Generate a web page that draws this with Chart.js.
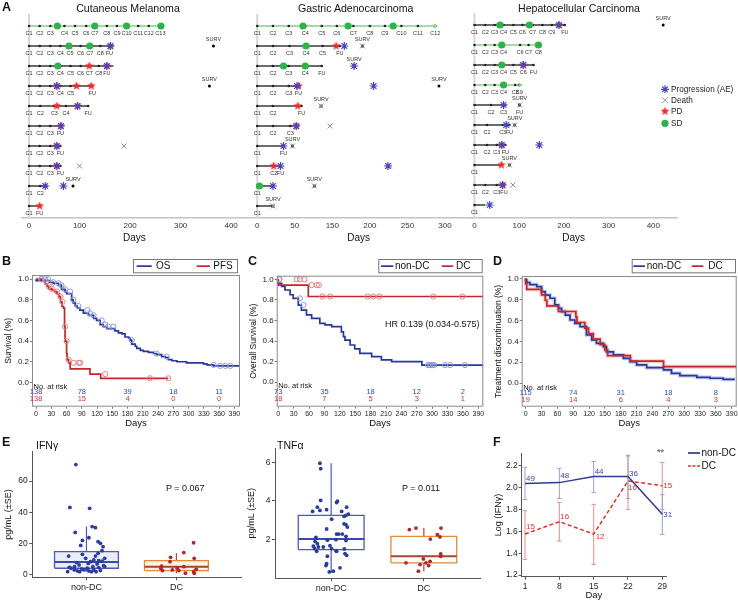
<!DOCTYPE html>
<html><head><meta charset="utf-8">
<script src="https://cdn.jsdelivr.net/npm/chart.js@4.4.1/dist/chart.umd.min.js"></script>
<style>
html,body{margin:0;padding:0;background:#fff;}
body{width:738px;height:603px;position:relative;overflow:hidden;font-family:"Liberation Sans",Arial,sans-serif;}
canvas{position:absolute;}
.t{position:absolute;white-space:nowrap;color:#111;line-height:1;}
</style></head><body>
<script>
// ================= DATA =================
// ---- Panel A: swimmer plots (days from start; rows top to bottom) ----
const melTicks = [0,100,200,300,400];
const melTickLabels = ['0','100','200','300','400'];
const melCycles = [
 [[0,'C1'],[21,'C2'],[42,'C3'],[70,'C4'],[91,'C5'],[113,'C6'],[130,'C7'],[154,'C8'],[174,'C9'],[193,'C10'],[216,'C11'],[237,'C12'],[260,'C13']],
 [[0,'C1'],[21,'C2'],[42,'C3'],[62,'C4'],[81,'C5'],[102,'C6'],[120,'C7'],[141,'C8'],[159,'FU']],
 [[0,'C1'],[21,'C2'],[42,'C3'],[62,'C4'],[82,'C5'],[102,'C6'],[119,'C7'],[138,'C8'],[154,'FU']],
 [[0,'C1'],[21,'C2'],[42,'C3'],[62,'C4'],[82,'C5'],[125,'FU']],
 [[0,'C1'],[22,'C2'],[50,'C3'],[73,'C4'],[117,'FU']],
 [[0,'C1'],[21,'C2'],[42,'C3'],[62,'FU']],
 [[0,'C1'],[21,'C2'],[42,'C3'],[62,'FU']],
 [[0,'C1'],[21,'C2'],[42,'C3'],[62,'FU']],
 [[0,'C1'],[22,'C2']],
 [[0,'C1'],[21,'FU']]
];
const melEnd   = [260,167,167,123,117,63,62,62,37,21];
const melSD    = [[56,130,193,261],[79,120],[57],[],[],[],[],[],[],[]];
const melPD    = [[],[161],[119,154],[55,94,123],[55,96],[63],[55],[55],[],[21]];
const melProg  = [[],[161],[154],[55],[96],[63],[55],[55],[32,68],[]];
const melDeath = [[],[],[],[],[],[],[188],[100],[],[]];
const melSurv  = [[],[365],[],[357],[],[],[],[],[87],[]];
const melGreenRows = [0];
const melArrowRows = [0];

const gasTicks = [0,50,100,150,200,250];
const gasTickLabels = ['0','50','150','200','250','300'];
const gasCycles = [
 [[0,'C1'],[21,'C2'],[42,'C3'],[64,'C4'],[86,'C5'],[106,'C6'],[128,'C7'],[150,'C8'],[170,'C9'],[192,'C10'],[214,'C11'],[237,'C12']],
 [[0,'C1'],[21,'C2'],[43,'C3'],[65,'C4'],[87,'C5'],[110,'FU']],
 [[0,'C1'],[21,'C2'],[42,'C3'],[64,'C4'],[86,'FU']],
 [[0,'C1'],[21,'C2'],[42,'C3'],[55,'FU']],
 [[0,'C1'],[21,'C2'],[59,'FU']],
 [[0,'C1'],[21,'C2'],[44,'C3']],
 [[0,'C1'],[35,'FU']],
 [[0,'C1'],[22,'C2'],[31,'FU']],
 [[0,'C1']],
 [[0,'C1']]
];
const gasEnd   = [237,110,86,55,59,48,33,30,21,21];
const gasSD    = [[61,121,181],[65],[35,64],[],[],[],[],[],[3],[]];
const gasPD    = [[],[105],[],[55],[54],[52],[],[22],[],[]];
const gasProg  = [[],[116],[129],[53,155],[],[52],[35],[31,174],[21],[]];
const gasDeath = [[],[140],[129],[],[85],[97],[47],[176],[76],[21]];
const gasSurv  = [[],[140],[129],[242],[85],[],[47],[],[76],[21]];
const gasGreenRows = [0];
const gasArrowRows = [0];

const hccTicks = [0,100,200,300,400];
const hccTickLabels = ['0','100','200','300','400'];
const hccCycles = [
 [[0,'C1'],[24,'C2'],[45,'C3'],[65,'C4'],[87,'C5'],[107,'C6'],[130,'C7'],[152,'C8'],[173,'C9'],[202,'FU']],
 [[0,'C1'],[24,'C2'],[45,'C3'],[65,'C4'],[102,'C6'],[121,'C7'],[143,'C8']],
 [[0,'C1'],[24,'C2'],[45,'C3'],[65,'C4'],[87,'C5'],[109,'C6'],[132,'FU']],
 [[0,'C1'],[24,'C2'],[45,'C3'],[65,'C4'],[91,'C8'],[100,'C9']],
 [[0,'C1'],[37,'C2'],[65,'C3'],[101,'FU']],
 [[0,'C1'],[28,'C2'],[63,'C3'],[78,'FU']],
 [[0,'C1'],[28,'C2'],[50,'C3'],[69,'FU']],
 [[0,'C1']],
 [[0,'C1'],[24,'C2'],[50,'C3'],[66,'FU']],
 [[0,'C1']]
];
const hccEnd   = [202,143,132,102,72,78,71,57,65,24];
const hccSD    = [[57,123],[61,143],[61],[65],[],[],[],[],[],[]];
const hccPD    = [[189],[],[109],[],[],[],[61],[60],[63],[]];
const hccProg  = [[189],[],[109],[],[65],[71],[61,145],[],[63],[34]];
const hccDeath = [[],[],[],[],[101],[90],[],[78],[86],[]];
const hccSurv  = [[422],[],[],[],[101],[90],[],[78],[],[]];
const hccGreenRows = [1,3];
const hccArrowRows = [3];
const swimLegend = ['Progression (AE)','Death','PD','SD'];

// ---- Panels B-D: Kaplan-Meier ----
const kmTicks = [0,30,60,90,120,150,180,210,240,270,300,330,360,390];
const riskDays = [0,90,180,270,360];
const survTicks = [0,0.2,0.4,0.6,0.8,1.0];

const bNames = ['OS','PFS'];
const osTimes = [0,27,34,44,50,57,60,70,73,77,81,86,93,103,113,119,126,132,139,155,162,169,175,182,185,188,195,198,205,211,221,231,237,247,254,260,267,277,296,329,336,349,355,400];
const osSurv  = [1,0.985,0.97,0.96,0.94,0.9,0.88,0.86,0.80,0.77,0.74,0.72,0.70,0.67,0.65,0.62,0.60,0.56,0.54,0.52,0.50,0.48,0.47,0.44,0.43,0.41,0.37,0.35,0.33,0.31,0.30,0.29,0.28,0.27,0.25,0.24,0.22,0.21,0.20,0.19,0.18,0.17,0.16,0.16];
const osCensor = [11,18,24,34,44,50,57,67,73,83,101,106,113,129,136,142,152,188,237,257,349,362,372,382];
const pfsTimes = [0,11,15,18,22,25,31,36,41,45,48,51,54,56,57,60,61,64,67,106,127,176,260];
const pfsSurv  = [1,1,0.985,0.977,0.955,0.93,0.906,0.895,0.88,0.86,0.83,0.78,0.735,0.72,0.54,0.40,0.28,0.22,0.19,0.132,0.08,0.04,0.04];
const pfsCensor = [10,20,25,31,41,48,52,57,60,64,74,84,87,136,224,260];
const bRisk = [[138,78,39,18,11],[138,15,4,0,0]];

const cdNames = ['non-DC','DC'];
const cNonTimes = [0,6.5,13,23,29,39,45,55,65,81,91,104,123,127,130,140,149,159,182,201,221,280,292,400];
const cNonSurv  = [1,0.96,0.93,0.896,0.85,0.815,0.75,0.70,0.654,0.62,0.573,0.557,0.54,0.49,0.443,0.41,0.362,0.324,0.28,0.25,0.217,0.2,0.167,0.167];
const cNonCensor = [2,42,49,292,295,298,301,304,325,335,364];
const cDcTimes = [0,58.5,81,400];
const cDcSurv  = [1,0.944,0.833,0.833];
const cDcCensor = [2,36,42,51,65,75,79,86,101,174,185,197,302,359];
const cRisk = [[73,35,18,12,2],[18,7,5,3,1]];
const cHR = 'HR 0.139 (0.034-0.575)';

const dNonTimes = [0,2,8,21,30,37,46,55,62,68,75,84,93,103,115,125,134,147,153,166,185,198,210,229,261,276,292,324,349,374,396];
const dNonSurv  = [1,0.984,0.96,0.94,0.92,0.873,0.84,0.81,0.746,0.714,0.683,0.65,0.603,0.571,0.54,0.46,0.413,0.381,0.349,0.30,0.27,0.238,0.206,0.175,0.149,0.127,0.095,0.073,0.057,0.048,0.038];
const dDcTimes = [0,2,30,37,40,62,95,97,112,119,128,141,150,155,198,261,311,399];
const dDcSurv  = [1,0.947,0.895,0.842,0.789,0.737,0.684,0.632,0.579,0.526,0.474,0.421,0.368,0.316,0.263,0.211,0.158,0.158];
const dRisk = [[115,74,31,18,8],[19,14,6,4,3]];

// ---- Panel E: cytokine box plots ----
const boxGroups = ['non-DC','DC'];
const ifnNonDC = [70.6,43.2,42.6,27.2,30.9,30.2,23.8,22.1,21.3,18.9,20.2,18.1,12.1,13.2,15.5,13.8,12.1,10.6,10.6,7.9,8.5,9.6,9.1,8.9,6.4,7.4,7.0,6.0,4.9,5.3,3.8,4.3,5.3,4.7,5.3,2.1,3.2,2.6,2.1,3.2,2.1,3.2,2.1,2.8,2.6,4.3];
const ifnNonDCJit = [-0.118,-0.184,0.035,-0.125,0.064,0.1,0.027,-0.045,0.129,-0.064,0.155,0.184,-0.198,-0.045,0.173,0.129,0.1,-0.009,0.202,-0.111,0.045,0.082,0.136,0.173,-0.082,0.02,0.118,0.191,-0.191,-0.133,-0.053,0.009,0.071,0.136,0.202,-0.209,-0.136,-0.1,-0.075,-0.027,0.056,0.082,0.107,0.155,0.027,-0.173];
const ifnDC = [5.7,11.3,8.5,14.3,20.6,10.6,4.3,2.8,3.2,2.8,5.3,1.1,2.1,3.6,1.1,4.3];
const ifnDCJit = [-0.165,-0.064,-0.071,0.082,0.191,0.198,-0.173,-0.155,-0.045,0.027,0.082,0.1,0.191,0.22,0.198,0.009];
const ifnStatsNonDC = [2.1,4.3,8.3,14.9,30.9];   // lo, q1, median, q3, hi
const ifnStatsDC    = [1.1,2.8,5.3,9.1,13.8];
const ifnTicks = [0,20,40,60];
const ifnP = 'P = 0.067';

const tnfNonDC = [5.95,5.67,4.03,3.68,3.46,3.51,3.55,3.06,3.92,3.99,3.46,3.68,3.20,3.25,3.32,2.77,2.82,2.65,2.55,2.29,2.29,2.29,2.12,1.91,1.97,2.00,2.17,1.95,1.79,1.66,1.54,1.40,1.62,1.69,1.54,1.40,1.43,1.52,1.28,1.19,1.14,0.76,0.66,0.37,0.54,0.33,1.62];
const tnfNonDCJit = [-0.121,-0.113,-0.113,-0.149,-0.2,-0.121,-0.049,0.005,0.059,0.067,0.113,0.167,0.139,0.16,0.185,0.16,0.139,0.175,-0.049,0.059,0.081,0.12,-0.164,-0.174,-0.041,0.052,0.16,0.16,-0.149,-0.192,-0.178,-0.156,-0.085,-0.013,0.005,0.059,0.052,0.142,0.149,0.167,-0.041,-0.049,-0.056,0.023,0.095,-0.02,-0.138];
const tnfDC = [2.52,2.60,2.60,2.26,2.14,2.03,1.26,1.14,1.00,0.80,0.71,0.80,0.66,0.88,0.37];
const tnfDCJit = [-0.156,-0.085,0.185,0.146,0.174,0.07,0.182,0.182,-0.005,-0.192,-0.041,0.023,0.052,0.067,-0.059];
const tnfStatsNonDC = [0.28,1.485,2.03,3.25,5.95];
const tnfStatsDC    = [0.37,0.8,1.14,2.17,2.6];
const tnfTicks = [2,4,6];
const tnfP = 'P = 0.011';

// ---- Panel F: log IFNγ over time ----
const fDays = [1,8,15,22,29];
const fNonDC   = [2.038,2.045,2.10,2.10,1.755];
const fNonDCLo = [1.89,1.90,1.953,1.90,1.572];
const fNonDCHi = [2.185,2.176,2.237,2.295,1.935];
const fNonDCN  = [49,48,44,36,31];
const fDC   = [1.575,1.688,1.575,2.06,2.017];
const fDCLo = [1.343,1.51,1.298,1.80,1.80];
const fDCHi = [1.788,1.865,1.846,2.288,2.23];
const fDCN  = [15,16,12,16,15];
const fYTicks = [1.2,1.4,1.6,1.8,2.0,2.2];

// ================= RENDERING =================
const FONT = '"Liberation Sans", Arial, sans-serif';
Chart.defaults.font.family = FONT;
Chart.defaults.color = '#222';
Chart.defaults.animation = false;
Chart.defaults.responsive = false;
Chart.defaults.devicePixelRatio = 1;
Chart.defaults.events = [];
Chart.defaults.plugins.legend.display = false;
Chart.defaults.plugins.tooltip.enabled = false;

const COL = {prog:'#4646c4', death:'#8c8c8c', sd:'#2db34a', sdLine:'#86d086', row:'#3a3a3a', pd:'#ee2b2b',
  blue:'#27379b', blueC:'#8d99d8', blueR:'#3646b4', red:'#c3262b', redC:'#e38181', redR:'#d23434'};

function fixAxis(size){ return a => { if (a.isHorizontal()) a.height = size; else a.width = size; a.paddingLeft=0; a.paddingRight=0; a.paddingTop=0; a.paddingBottom=0; }; }
function setTicks(vals){ return a => { a.ticks = vals.map(v => ({value:v})); }; }
function mkCanvas(left, top, w, h){
  const c = document.createElement('canvas'); c.width = w; c.height = h;
  Object.assign(c.style, {left:left+'px', top:top+'px', width:w+'px', height:h+'px'});
  document.body.appendChild(c); return c;
}
function txt(s, x, yc, fs, o={}){
  const e = document.createElement('div'); e.className='t'; e.textContent = s;
  e.style.fontSize = fs+'px'; e.style.top = (yc - fs/2)+'px';
  if (o.center){ e.style.left=(x-150)+'px'; e.style.width='300px'; e.style.textAlign='center'; } else e.style.left = x+'px';
  if (o.bold) e.style.fontWeight='bold';
  if (o.color) e.style.color=o.color;
  document.body.appendChild(e);
}
function makeStar(size, color){
  const c = document.createElement('canvas'); c.width = c.height = size;
  const g = c.getContext('2d'); g.fillStyle = color; g.beginPath();
  const R = size/2, r = R*0.45;
  for (let k=0;k<10;k++){ const a=-Math.PI/2+k*Math.PI/5, rr=k%2?r:R; g.lineTo(R+rr*Math.cos(a), R+rr*Math.sin(a)); }
  g.closePath(); g.fill(); return c;
}
const starImg = makeStar(9, COL.pd);

function drawAsterisk(ctx, x, y, r, color){
  ctx.strokeStyle=color; ctx.lineWidth=1.2; ctx.beginPath();
  for (let k=0;k<4;k++){ const a=k*Math.PI/4; ctx.moveTo(x-r*Math.cos(a), y-r*Math.sin(a)); ctx.lineTo(x+r*Math.cos(a), y+r*Math.sin(a)); }
  ctx.stroke();
}

// ---------- swimmer ----------
function swimmer(canvas, d){
  const pts = arr => arr.flatMap((row,i)=>row.map(v=>({x:v,y:i+1})));
  const ds = [];
  ds.push({label:swimLegend[0], data:pts(d.prog), pointStyle:'star', pointRadius:4, pointBorderColor:COL.prog, pointBorderWidth:1.2, order:1});
  ds.push({label:swimLegend[1], data:pts(d.death), pointStyle:'crossRot', pointRadius:3.5, pointBorderColor:COL.death, pointBorderWidth:1, order:2});
  ds.push({label:'SURV', data:pts(d.surv), pointStyle:'circle', pointRadius:1.5, pointBackgroundColor:'#000', pointBorderWidth:0, order:3});
  ds.push({label:swimLegend[2], data:pts(d.pd), pointStyle:starImg, order:4});
  ds.push({label:swimLegend[3], data:pts(d.sd), pointStyle:'circle', pointRadius:3.6, pointBackgroundColor:COL.sd, pointBorderWidth:0, order:5});
  ds.push({label:'ongoing', data:d.arrow.map(i=>({x:d.end[i], y:i+1})), pointStyle:'triangle', pointRotation:90, pointRadius:3, pointBackgroundColor:COL.sdLine, pointBorderColor:COL.sdLine, pointBorderWidth:0, order:6});
  ds.push({label:'cycles', data:d.cycles.flatMap((row,i)=>row.map(c=>({x:c[0], y:i+1}))), pointRadius:1.3, pointBackgroundColor:'#222', pointBorderWidth:0, order:7});
  d.end.forEach((e,i)=> ds.push({label:'row'+(i+1), data:[{x:0,y:i+1},{x:e,y:i+1}], showLine:true, pointRadius:0,
    borderColor: d.green.includes(i) ? COL.sdLine : COL.row, borderWidth:1.6, order:8}));
  ds.push({label:'start', data:[{x:0,y:d.yMin},{x:0,y:d.yMax}], showLine:true, pointRadius:0, borderColor:'#d6d6d6', borderWidth:2, order:9});

  const labelPlugin = {id:'swimLabels', afterDatasetsDraw(chart){
    const {ctx, scales:{x,y}} = chart; ctx.save();
    ctx.font = '5.5px '+FONT; ctx.fillStyle='#333'; ctx.textAlign='center'; ctx.textBaseline='middle';
    d.cycles.forEach((row,i)=>row.forEach(c=>ctx.fillText(c[1], x.getPixelForValue(c[0]), y.getPixelForValue(i+1)+7.5)));
    d.surv.forEach((row,i)=>row.forEach(v=>ctx.fillText('SURV', x.getPixelForValue(v), y.getPixelForValue(i+1)-6.5)));
    if (d.legend){
      const lx = d.legend[0], ly = d.legend[1];
      ctx.font = '8.2px '+FONT; ctx.textAlign='left'; ctx.fillStyle='#222';
      const yy = [ly, ly+11, ly+22, ly+34];
      drawAsterisk(ctx, lx, yy[0], 4, COL.prog);
      ctx.strokeStyle=COL.death; ctx.lineWidth=1; ctx.beginPath(); ctx.moveTo(lx-3,yy[1]-3); ctx.lineTo(lx+3,yy[1]+3); ctx.moveTo(lx-3,yy[1]+3); ctx.lineTo(lx+3,yy[1]-3); ctx.stroke();
      ctx.drawImage(starImg, lx-4.5, yy[2]-4.5);
      ctx.fillStyle=COL.sd; ctx.beginPath(); ctx.arc(lx, yy[3], 3.6, 0, 2*Math.PI); ctx.fill();
      ctx.fillStyle='#222';
      swimLegend.forEach((s,k)=>ctx.fillText(s, lx+6, yy[k]+0.5));
    }
    ctx.restore();
  }};

  return new Chart(canvas, {type:'scatter', data:{datasets:ds},
    options:{layout:{padding:{left:d.padL, right:d.padR, top:d.padT, bottom:0}},
      scales:{
        x:{type:'linear', min:d.xMin, max:d.xMax, afterBuildTicks:setTicks(d.ticks), afterFit:fixAxis(27),
           grid:{display:false, drawTicks:false}, border:{display:true, color:'#c4c4c4', width:1.5},
           ticks:{font:{size:8}, color:'#333', padding:3, maxRotation:0, autoSkip:false, callback:(v,i)=>d.tickLabels[i]},
           title:{display:true, text:'Days', font:{size:10}, color:'#111', padding:{top:0,bottom:1}}},
        y:{type:'linear', min:d.yMin, max:d.yMax, reverse:true, display:false}
      }},
    plugins:[labelPlugin]});
}

swimmer(mkCanvas(0,0,252,245), {cycles:melCycles, end:melEnd, sd:melSD, pd:melPD, prog:melProg, death:melDeath, surv:melSurv,
  green:melGreenRows, arrow:melArrowRows, xMin:-14, xMax:431, yMin:0.4, yMax:10.6, ticks:melTicks, tickLabels:melTickLabels, padL:22, padR:2, padT:14});
swimmer(mkCanvas(240,0,240,245), {cycles:gasCycles, end:gasEnd, sd:gasSD, pd:gasPD, prog:gasProg, death:gasDeath, surv:gasSurv,
  green:gasGreenRows, arrow:gasArrowRows, xMin:-16, xMax:286, yMin:0.4, yMax:10.6, ticks:gasTicks, tickLabels:gasTickLabels, padL:5, padR:8, padT:14});
swimmer(mkCanvas(465,0,273,245), {cycles:hccCycles, end:hccEnd, sd:hccSD, pd:hccPD, prog:hccProg, death:hccDeath, surv:hccSurv,
  green:hccGreenRows, arrow:hccArrowRows, xMin:-9.6, xMax:453, yMin:0.4, yMax:10.65, ticks:hccTicks, tickLabels:hccTickLabels, padL:5, padR:61, padT:13,
  legend:[200,89.3]});

// ---------- Kaplan-Meier ----------
function survAt(times, surv, t){ let s=surv[0]; for (let i=0;i<times.length;i++){ if (times[i]<=t) s=surv[i]; else break; } return s; }
function km(canvas, d){
  const ds = [];
  d.series.forEach((s,k)=>{
    if (s.censor) ds.push({label:s.name+' censored', data:s.censor.map(t=>({x:t, y:survAt(s.times,s.surv,t)})), pointStyle:'circle', pointRadius:2.6,
      pointBackgroundColor:'rgba(255,255,255,0)', pointBorderColor:s.censorColor, pointBorderWidth:1, order:1});
    ds.push({label:s.name, data:s.times.map((t,i)=>({x:t,y:s.surv[i]})), showLine:true, stepped:'after', pointRadius:0,
      borderColor:s.color, borderWidth:1.7, order:3-k});
    if (s.halo) ds.push({label:s.name+' band', data:s.times.map((t,i)=>({x:t,y:s.surv[i]})), showLine:true, stepped:'after', pointRadius:0,
      borderColor:s.halo, borderWidth:4, order:10-k});
  });
  const plug = {id:'kmDecor', afterDraw(chart){
    const {ctx, chartArea:a, scales:{x,y}} = chart; ctx.save();
    ctx.strokeStyle='#8a8a8a'; ctx.lineWidth=1;
    ctx.strokeRect(a.left+0.5, a.top+0.5, a.right-a.left-1, a.bottom-a.top-1);
    const [bx,by,bw,bh] = d.legendBox;
    ctx.strokeStyle='#777'; ctx.strokeRect(bx+0.5, by+0.5, bw, bh);
    const cy = by + bh/2 + 0.5;
    ctx.font='10px '+FONT; ctx.textBaseline='middle'; ctx.textAlign='left';
    d.series.forEach((s,k)=>{ const [l1,l2,tx] = d.legendItems[k];
      ctx.strokeStyle=s.color; ctx.lineWidth=1.7; ctx.beginPath(); ctx.moveTo(l1,cy); ctx.lineTo(l2,cy); ctx.stroke();
      ctx.fillStyle='#111'; ctx.fillText(s.name, tx, cy+0.5); });
    ctx.font='7.5px '+FONT; ctx.fillStyle='#111';
    ctx.fillText('No. at risk', a.left+1.5, y.getPixelForValue(-0.04));
    ctx.textAlign='center';
    d.series.forEach((s,k)=> d.risk[k].forEach((n,j)=>{ ctx.fillStyle=s.riskColor;
      ctx.fillText(String(n), x.getPixelForValue(riskDays[j]), y.getPixelForValue(k===0?-0.095:-0.16)); }));
    if (d.hr){ ctx.font='9px '+FONT; ctx.fillStyle='#111'; ctx.textAlign='left'; ctx.fillText(d.hr.text, x.getPixelForValue(d.hr.x), y.getPixelForValue(d.hr.y)); }
    ctx.restore();
  }};
  return new Chart(canvas, {type:'scatter', data:{datasets:ds},
    options:{layout:{padding:{left:0, right:d.padR, top:d.padT, bottom:0}},
      scales:{
        x:{type:'linear', min:d.xMin, max:d.xMax, afterBuildTicks:setTicks(kmTicks), afterFit:fixAxis(25.3),
          grid:{display:true, drawOnChartArea:false, drawTicks:true, tickLength:2, color:'#777'}, border:{display:false},
          ticks:{font:{size:7}, padding:1, maxRotation:0, autoSkip:false, color:'#222'},
          title:{display:true, text:'Days', font:{size:9.5}, color:'#111', padding:{top:0,bottom:2.5}}},
        y:{type:'linear', min:d.yMin, max:d.yMax, afterBuildTicks:setTicks(survTicks), afterFit:fixAxis(d.yAxisW),
          grid:{display:true, drawOnChartArea:false, drawTicks:true, tickLength:2, color:'#777'}, border:{display:false},
          ticks:{font:{size:8}, padding:1, color:'#222', callback:v=>v.toFixed(1)},
          title:{display:true, text:d.yTitle, font:{size:8.5}, color:'#111', padding:{top:3.5,bottom:0}}}
      }},
    plugins:[plug]});
}

km(mkCanvas(0,250,245,182), {
  series:[{name:bNames[0], times:osTimes, surv:osSurv, censor:osCensor, color:COL.blue, censorColor:COL.blueC, riskColor:COL.blueR},
          {name:bNames[1], times:pfsTimes, surv:pfsSurv, censor:pfsCensor, color:COL.red, censorColor:COL.redC, riskColor:COL.redR}],
  risk:bRisk, xMin:-8, xMax:401, yMin:-0.235, yMax:1.04, yTitle:'Survival (%)', padT:25, padR:5, yAxisW:32,
  legendBox:[133,9,104,13.3], legendItems:[[136.7,151.7,156],[196.7,210,213.3]]});
km(mkCanvas(245,250,245,182), {
  series:[{name:cdNames[0], times:cNonTimes, surv:cNonSurv, censor:cNonCensor, color:COL.blue, censorColor:COL.blueC, riskColor:COL.blueR},
          {name:cdNames[1], times:cDcTimes, surv:cDcSurv, censor:cDcCensor, color:COL.red, censorColor:COL.redC, riskColor:COL.redR}],
  risk:cRisk, xMin:-3.1, xMax:399.7, yMin:-0.237, yMax:1.035, yTitle:'Overall Survival (%)', padT:25.7, padR:6.7, yAxisW:31.7,
  legendBox:[133.3,9,103.4,13.3], legendItems:[[136,148.3,150],[196.7,208.3,211]], hr:{text:cHR, x:208, y:0.56}});
km(mkCanvas(490,250,248,182), {
  series:[{name:cdNames[0], times:dNonTimes, surv:dNonSurv, color:COL.blue, halo:'rgba(120,135,210,0.35)', riskColor:COL.blueR},
          {name:cdNames[1], times:dDcTimes, surv:dDcSurv, color:COL.red, halo:'rgba(225,120,120,0.35)', riskColor:COL.redR}],
  risk:dRisk, xMin:-7.6, xMax:399.5, yMin:-0.223, yMax:1.022, yTitle:'Treatment discontinuation (%)', padT:26, padR:1.3, yAxisW:31.7,
  legendBox:[141.7,9,103.3,13.3], legendItems:[[143.3,155,156.7],[201.7,213.3,218.3]]});

// ---------- Box plots ----------
function boxChart(canvas, d){
  const ds = [];
  d.groups.forEach((g,k)=>{
    const c = k+1, h = 0.355, [lo,q1,med,q3,hi] = g.stats;
    ds.push({label:g.name+' values', data:g.vals.map((v,i)=>({x:c+g.jit[i], y:v})), pointStyle:'circle', pointRadius:1.9, pointBackgroundColor:g.pt, pointBorderWidth:0, order:1});
    ds.push({label:g.name+' median', data:[{x:c-h,y:med},{x:c+h,y:med}], showLine:true, pointRadius:0, borderColor:g.med, borderWidth:2, order:2});
    ds.push({label:g.name+' box', data:[{x:c-h,y:q1},{x:c+h,y:q1},{x:c+h,y:q3},{x:c-h,y:q3},{x:c-h,y:q1}], showLine:true, fill:'shape',
      backgroundColor:g.fill, pointRadius:0, borderColor:g.box, borderWidth:1.3, order:3});
    ds.push({label:g.name+' whiskers', data:[{x:c,y:q3},{x:c,y:hi},{x:c,y:null},{x:c,y:q1},{x:c,y:lo}], showLine:true, spanGaps:false,
      pointRadius:0, borderColor:g.whisk, borderWidth:1.2, order:4});
  });
  return new Chart(canvas, {type:'scatter', data:{datasets:ds},
    options:{layout:{padding:{left:0, right:d.padR, top:d.padT, bottom:0}},
      scales:{
        x:{type:'linear', min:d.xMin, max:d.xMax, afterBuildTicks:setTicks([1,2]), afterFit:fixAxis(d.xAxisH),
          grid:{display:true, drawOnChartArea:false, drawTicks:true, tickLength:3, color:'#555'}, border:{display:true, color:'#555', width:1},
          ticks:{font:{size:9}, padding:2, color:'#222', autoSkip:false, maxRotation:0, callback:(v,i)=>boxGroups[i]}},
        y:{type:'linear', min:d.yMin, max:d.yMax, afterBuildTicks:setTicks(d.ticks), afterFit:fixAxis(d.yAxisW),
          grid:{display:true, drawOnChartArea:false, drawTicks:true, tickLength:3, color:'#555'}, border:{display:true, color:'#555', width:1},
          ticks:{font:{size:8.5}, padding:1.5, color:'#222'},
          title:{display:true, text:'pg/mL (±SE)', font:{size:9}, color:'#111', padding:{top:d.yTitlePad,bottom:0}}}
      }}});
}
const boxStyleNon = {pt:'#2b3c9e', med:'#3a4aa8', box:'#4a5ab8', whisk:'#4a5ab8'};
const boxStyleDC  = {pt:'#b5262a', med:'#a8452a', box:'#e08a3a', whisk:'#b5432a'};
boxChart(mkCanvas(0,435,245,168), {
  groups:[Object.assign({name:boxGroups[0], vals:ifnNonDC, jit:ifnNonDCJit, stats:ifnStatsNonDC, fill:'rgba(90,110,200,0.13)'}, boxStyleNon),
          Object.assign({name:boxGroups[1], vals:ifnDC, jit:ifnDCJit, stats:ifnStatsDC, fill:'rgba(235,160,90,0.15)'}, boxStyleDC)],
  xMin:0.398, xMax:2.718, yMin:-1.5, yMax:78.8, ticks:ifnTicks, padT:16.7, padR:0, xAxisH:25.7, yAxisW:32.3, yTitlePad:3});
boxChart(mkCanvas(240,435,245,168), {
  groups:[Object.assign({name:boxGroups[0], vals:tnfNonDC, jit:tnfNonDCJit, stats:tnfStatsNonDC, fill:'rgba(255,255,255,0)'}, boxStyleNon),
          Object.assign({name:boxGroups[1], vals:tnfDC, jit:tnfDCJit, stats:tnfStatsDC, fill:'rgba(255,255,255,0)'}, boxStyleDC)],
  xMin:0.394, xMax:2.606, yMin:0, yMax:6.74, ticks:tnfTicks, padT:13, padR:5, xAxisH:24.7, yAxisW:35, yTitlePad:6});

// ---------- Panel F ----------
(function(){
  const canvas = mkCanvas(490,435,248,168);
  const series = [
    {name:cdNames[0], m:fNonDC, lo:fNonDCLo, hi:fNonDCHi, n:fNonDCN, color:'#2e3b8e', err:'#9aa0d2', lab:'#3a46a0', dash:[], off:[[1,-5],[1,-7],[1,-5],[1,-3],[1,0]]},
    {name:cdNames[1], m:fDC, lo:fDCLo, hi:fDCHi, n:fDCN, color:'#d8352c', err:'#eb8f87', lab:'#d8352c', dash:[4,2.5], off:[[1,-7],[1,-5],[2,3],[0,7],[1,0]]}
  ];
  const ds = series.map((s,k)=>({label:s.name, data:fDays.map((d,i)=>({x:d,y:s.m[i]})), showLine:true, pointRadius:0,
    borderColor:s.color, borderWidth:1.5, borderDash:s.dash, order:k}));
  const plug = {id:'fDecor',
    beforeDatasetsDraw(chart){
      const {ctx, scales:{x,y}} = chart; ctx.save(); ctx.lineWidth=1;
      series.slice().reverse().forEach(s=>{ ctx.strokeStyle=s.err;
        fDays.forEach((d,i)=>{ const px=x.getPixelForValue(d), a=y.getPixelForValue(s.lo[i]), b=y.getPixelForValue(s.hi[i]);
          ctx.beginPath(); ctx.moveTo(px,a); ctx.lineTo(px,b); ctx.moveTo(px-2.2,a); ctx.lineTo(px+2.2,a); ctx.moveTo(px-2.2,b); ctx.lineTo(px+2.2,b); ctx.stroke(); }); });
      ctx.restore();
    },
    afterDatasetsDraw(chart){
      const {ctx, scales:{x,y}} = chart; ctx.save();
      ctx.font='8px '+FONT; ctx.textAlign='left'; ctx.textBaseline='middle';
      series.forEach(s=>{ ctx.fillStyle=s.lab; fDays.forEach((d,i)=>ctx.fillText(String(s.n[i]), x.getPixelForValue(d)+s.off[i][0], y.getPixelForValue(s.m[i])+s.off[i][1])); });
      // legend
      ctx.font='10px '+FONT;
      series.forEach((s,k)=>{ const ly = 18 + k*13; ctx.strokeStyle=s.color; ctx.lineWidth=1.7; ctx.setLineDash(s.dash.length?[3,1.5]:[]);
        ctx.beginPath(); ctx.moveTo(198,ly); ctx.lineTo(210,ly); ctx.stroke(); ctx.setLineDash([]);
        ctx.fillStyle='#111'; ctx.fillText(s.name, 211.5, ly+0.5); });
      ctx.restore();
    }};
  new Chart(canvas, {type:'scatter', data:{datasets:ds},
    options:{layout:{padding:{left:0, right:72, top:18.3, bottom:0}},
      scales:{
        x:{type:'linear', min:0.327, max:29.75, afterBuildTicks:setTicks(fDays), afterFit:fixAxis(26.3),
          grid:{display:true, drawOnChartArea:false, drawTicks:true, tickLength:3, color:'#555'}, border:{display:true, color:'#555', width:1},
          ticks:{font:{size:8.5}, padding:1.5, color:'#222', autoSkip:false, maxRotation:0},
          title:{display:true, text:'Day', font:{size:9.5}, color:'#111', padding:{top:0,bottom:1.5}}},
        y:{type:'linear', min:1.185, max:2.313, afterBuildTicks:setTicks(fYTicks), afterFit:fixAxis(31.7),
          grid:{display:true, drawOnChartArea:false, drawTicks:true, tickLength:3, color:'#555'}, border:{display:true, color:'#555', width:1},
          ticks:{font:{size:8.5}, padding:1, color:'#222', callback:v=>v.toFixed(1)},
          title:{display:true, text:'Log (IFNγ)', font:{size:9}, color:'#111', padding:{top:3,bottom:0}}}
      }},
    plugins:[plug]});
})();

// ---------- free text ----------
txt('A', 2, 7.5, 12.5, {bold:true});
txt('Cutaneous Melanoma', 128, 8, 10.6, {center:true});
txt('Gastric Adenocarcinoma', 355.7, 8, 10.6, {center:true});
txt('Hepatocellular Carcinoma', 579, 8, 10.6, {center:true});
txt('B', 2, 261, 12.5, {bold:true});
txt('C', 248, 261, 12.5, {bold:true});
txt('D', 493, 261, 12.5, {bold:true});
txt('E', 2, 442.5, 12.5, {bold:true});
txt('F', 493, 442.5, 12.5, {bold:true});
txt('IFNγ', 36, 445, 10.5);
txt('TNFα', 277, 445, 10.5);
txt(ifnP, 166, 488, 9);
txt(tnfP, 402, 488, 9);
txt('**', 657, 452, 9, {color:'#777', bold:true});
</script>
</body></html>
